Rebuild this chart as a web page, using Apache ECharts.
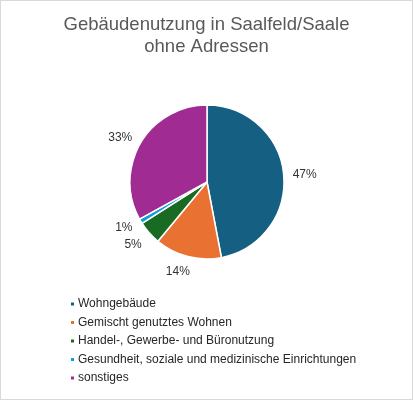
<!DOCTYPE html>
<html>
<head>
<meta charset="utf-8">
<script src="https://cdn.jsdelivr.net/npm/echarts@6/dist/echarts.min.js"></script>
<style>
  html, body { margin: 0; padding: 0; background: #fff; }
  #chart { width: 411px; height: 398px; border: 1px solid #d9d9d9; }
</style>
</head>
<body>
<div id="chart"></div>
<script>
const categories = [
  "Wohngebäude",
  "Gemischt genutztes Wohnen",
  "Handel-, Gewerbe- und Büronutzung",
  "Gesundheit, soziale und medizinische Einrichtungen",
  "sonstiges"
];
const shares = [47, 14, 5, 1, 33];
const colors = ["#156082", "#e97132", "#196b24", "#0f9ed5", "#a02b93"];
// label distance tweaks so the percentages sit like in the original
const labelLen = [6, 16, 18, 13, 11];
const labelLen2 = [-2, -11, -11, -8, -6];

const chart = echarts.init(document.getElementById("chart"));
chart.setOption({
  animation: false,
  color: colors,
  title: {
    text: "Gebäudenutzung in Saalfeld/Saale\nohne Adressen",
    left: "center",
    top: 8,
    textStyle: {
      fontFamily: "Liberation Sans",
      fontSize: 18.5,
      fontWeight: "normal",
      color: "#595959",
      lineHeight: 22
    }
  },
  legend: {
    orient: "vertical",
    left: 63,
    top: 292,
    icon: "rect",
    itemWidth: 5,
    itemHeight: 5,
    itemGap: 6.5,
    textStyle: {
      fontFamily: "Liberation Sans",
      fontSize: 12,
      color: "#262626",
      padding: [0, 0, 0, -2]
    },
    data: categories
  },
  series: [
    {
      type: "pie",
      center: [206, 181],
      radius: 77,
      startAngle: 90,
      clockwise: true,
      itemStyle: { borderColor: "#fff", borderWidth: 1.5 },
      label: {
        show: true,
        position: "outside",
        formatter: "{d}%",
        fontFamily: "Liberation Sans",
        fontSize: 12,
        color: "#333333"
      },
      labelLine: { show: false, length: 4, length2: 0 },
      data: categories.map((name, i) => ({
        name: name,
        value: shares[i],
        labelLine: { show: false, length: labelLen[i], length2: labelLen2[i] }
      }))
    }
  ]
});
</script>
</body>
</html>
